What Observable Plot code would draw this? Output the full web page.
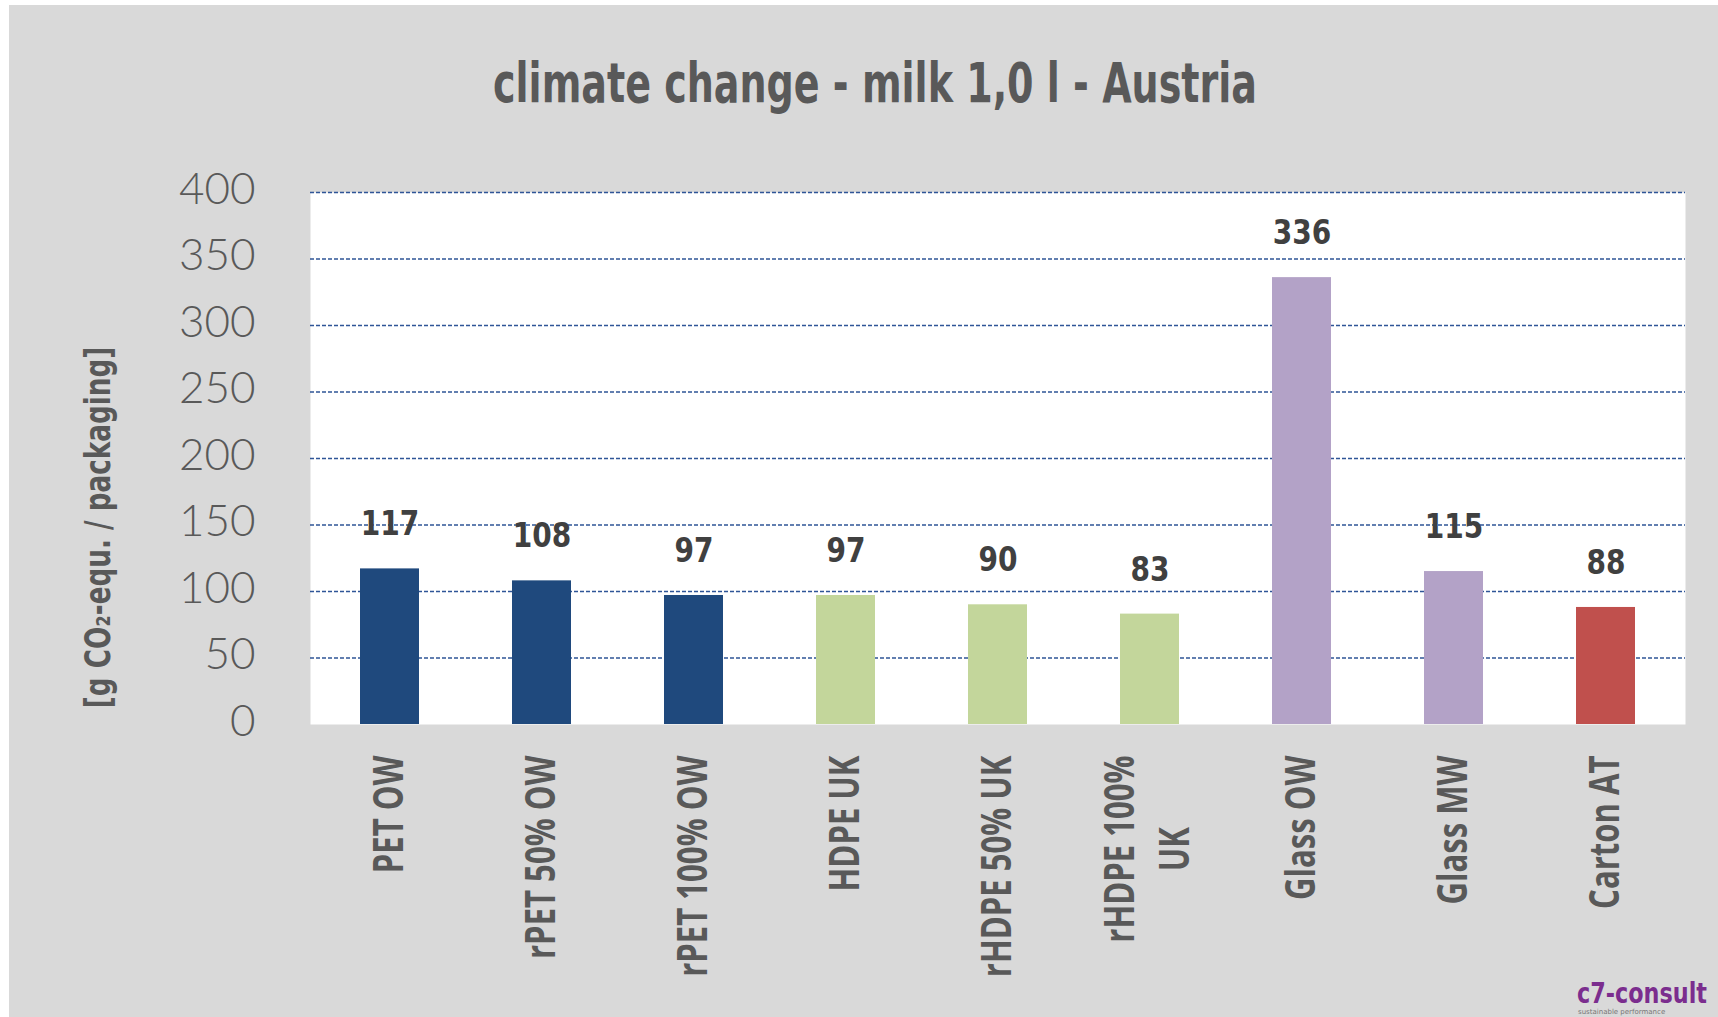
<!DOCTYPE html>
<html><head><meta charset="utf-8">
<script src="https://cdn.jsdelivr.net/npm/d3@7"></script>
<script src="https://cdn.jsdelivr.net/npm/@observablehq/plot@0.6"></script>
<style>
body{margin:0;background:#fff;width:1718px;height:1017px;overflow:hidden;position:relative;}
#fig{position:absolute;left:9px;top:5px;width:1709px;height:1012px;background:#d9d9d9;}
#fig svg{display:block;}
#logo{position:absolute;left:0;top:960px;}
</style></head><body><div id="fig"></div>
<script>
const categories = ["PET OW","rPET 50% OW","rPET 100% OW","HDPE UK","rHDPE 50% UK","rHDPE 100%\nUK","Glass OW","Glass MW","Carton AT"];
const values = [117,108,97,97,90,83,336,115,88];
const groups = ["PET","PET","PET","HDPE","HDPE","HDPE","Glass","Glass","Carton"];
const groupOrder = ["PET","HDPE","Glass","Carton"];
const yTicks = [0,50,100,150,200,250,300,350,400];
const titleText = "climate change - milk 1,0 l - Austria";
const yLabel = "[g CO₂-equ. / packaging]";
const logoText = "c7-consult";
const logoSub = "sustainable performance";

const BOLDF = '"DejaVu Sans",sans-serif';
const LABF = '"Open Sans","DejaVu Sans",sans-serif';
const groupColors = ["#1f497d","#c3d69b","#b3a2c7","#c0504d"];

const fig = d3.select("#fig");
const tsvg = fig.append("svg").attr("width",1709).attr("height",140);
tsvg.append("text").attr("x",866).attr("y",97).attr("text-anchor","middle")
  .attr("textLength",764).attr("lengthAdjust","spacingAndGlyphs")
  .attr("font-family",BOLDF).attr("font-weight","bold").attr("font-size",56)
  .attr("fill","#595959").text(titleText);

const data = categories.map((c,i)=>({cat:c, value:values[i], group:groups[i]}));

const labelFontSize = 42, labelWeight = 700, labelSqueeze = 0.74;
const ctx = document.createElement("canvas").getContext("2d");
ctx.font = `${labelWeight} ${labelFontSize}px ${LABF}`;
const single = data.filter(d=>!d.cat.includes("\n"));
const multiRows = data.filter(d=>d.cat.includes("\n")).flatMap(d => {
  const lines = d.cat.split("\n");
  const half = d3.max(lines, l => ctx.measureText(l).width) * labelSqueeze / 2;
  return lines.map((line, i) => ({cat:d.cat, line, i, n:lines.length, half}));
});
const lineGap = 55;
const labelStyle = {fontFamily:LABF, fontSize:labelFontSize, fontWeight:labelWeight, fill:"#595959", lineAnchor:"middle"};
const multiMarks = [0,1].map(k => {
  const rows = multiRows.filter(r => r.i === k);
  const half = rows.length ? rows[0].half : 0;
  const n = rows.length ? rows[0].n : 2;
  return Plot.text(rows, {x:"cat", frameAnchor:"bottom", text:"line", rotate:-90, textAnchor:"middle",
    dx:(k - (n-1)/2)*lineGap - 1.5, dy:31 + half, ...labelStyle});
});

const chart = Plot.plot({
  width:1709, height:872, marginTop:47, marginBottom:293, marginLeft:301, marginRight:33,
  style:{background:"transparent", overflow:"visible", fontFamily:BOLDF},
  x:{domain:categories, paddingInner:0.61, paddingOuter:0.305, axis:null},
  y:{domain:[0,400]},
  color:{domain:groupOrder, range:groupColors},
  marks:[
    Plot.frame({fill:"white", stroke:"none"}),
    Plot.ruleY(yTicks.filter(d=>d>0), {stroke:"#2f5597", strokeWidth:1.5, strokeDasharray:"4,2"}),
    Plot.barY(data, {x:"cat", y:"value", fill:"group"}),
    Plot.axisY({ticks:yTicks, tickSize:0, tickPadding:55, fontSize:44, fontFamily:"Lato,'Open Sans',sans-serif", fontWeight:300, fill:"#595959", label:null, dy:-3}),
    Plot.text([yLabel], {frameAnchor:"left", textAnchor:"middle", lineAnchor:"middle", dx:-212, dy:69, rotate:-90, fontSize:35, fontWeight:"bold", fill:"#595959"}),
    Plot.text(data, {x:"cat", y:"value", text:d=>String(d.value), dy:-44, fontSize:33, fontWeight:"bold", fill:"#404040"}),
    Plot.text(single, {x:"cat", frameAnchor:"bottom", text:"cat", dy:31, rotate:-90, textAnchor:"end", ...labelStyle}),
    ...multiMarks
  ]
});
fig.node().appendChild(chart);

// text marks in order: y label, value labels, single x labels, multi-line x label rows
const textGroups = [...chart.querySelectorAll(':scope > g[aria-label="text"]')];
function squeeze(g, factor){
  if (!g) return;
  g.querySelectorAll("text").forEach(t=>{
    const L = t.getComputedTextLength();
    t.setAttribute("textLength", L*factor);
    t.setAttribute("lengthAdjust","spacingAndGlyphs");
  });
}
squeeze(textGroups[0], 0.75);
squeeze(textGroups[1], 0.85);
textGroups.slice(2).forEach(g => squeeze(g, labelSqueeze));

const lsvg = d3.select("body").append("svg").attr("id","logo").attr("width",1718).attr("height",57);
lsvg.append("text").attr("x",1577).attr("y",43).attr("font-family",BOLDF).attr("font-weight","bold")
  .attr("font-size",28).attr("fill","#7b2d8e").attr("textLength",130).attr("lengthAdjust","spacingAndGlyphs").text(logoText);
lsvg.append("text").attr("x",1578).attr("y",54).attr("font-family",BOLDF).attr("font-size",7)
  .attr("fill","#777").text(logoSub);
</script></body></html>
